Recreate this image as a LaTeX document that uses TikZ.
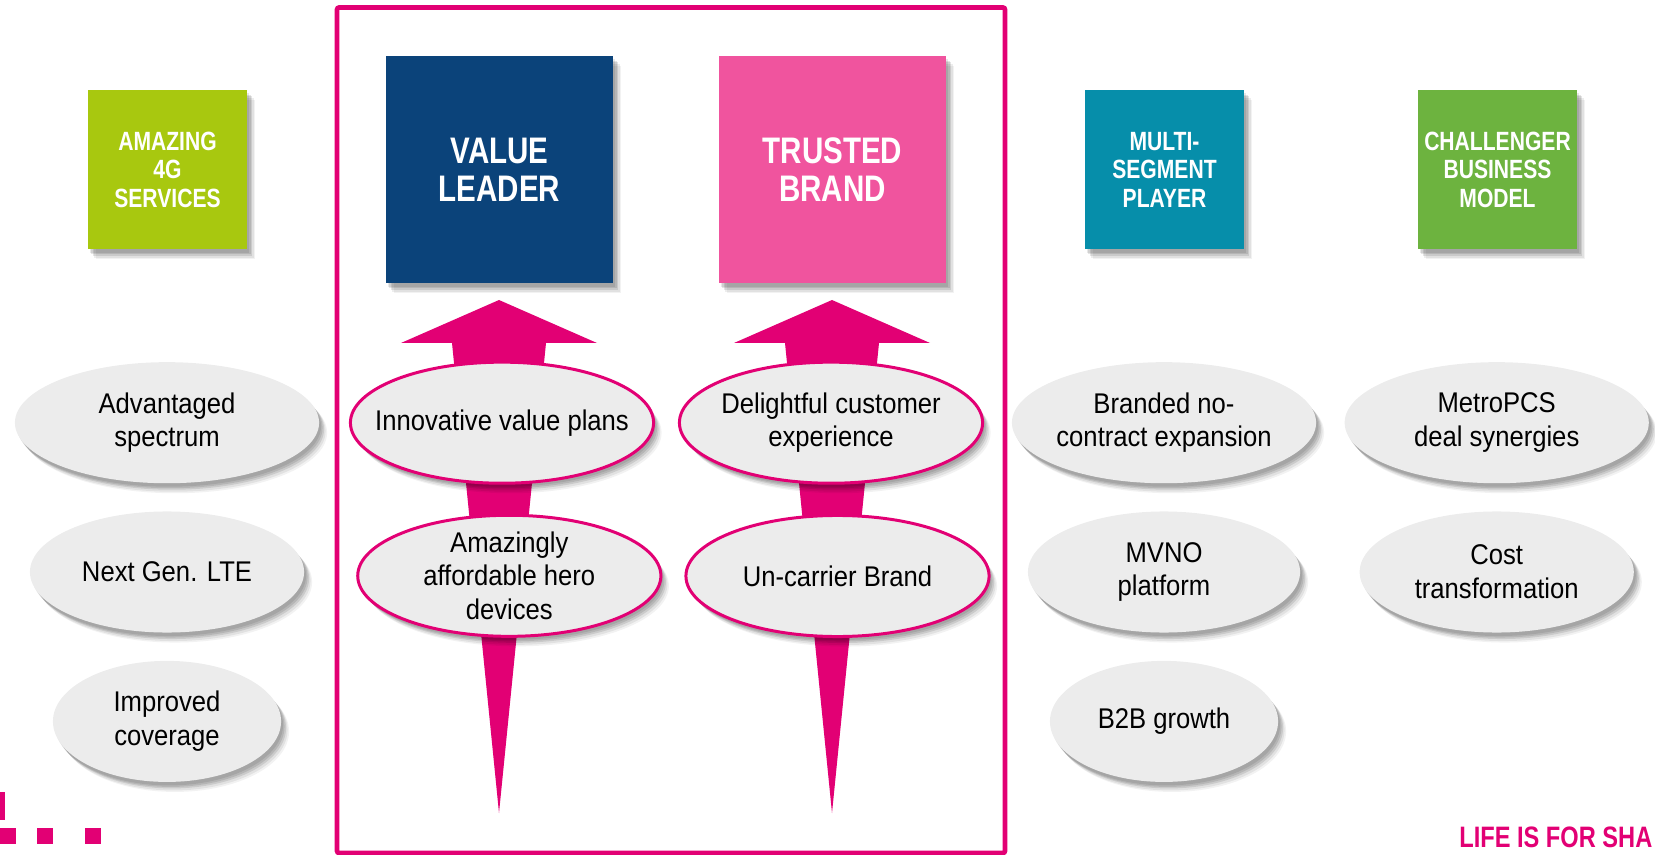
\documentclass[tikz,border=0pt]{standalone}
\usepackage{xcolor}
\usepackage{fontspec}
\setmainfont[FakeStretch=0.9,BoldFeatures={FakeStretch=0.8}]{Liberation Sans}
\usetikzlibrary{shapes.geometric,shadows}

\begin{document}
\begin{tikzpicture}[x=0.01cm,y=-0.01cm,
        softshadow/.style={
            drop shadow={shadow xshift=0.02cm,shadow yshift=-0.035cm,fill=black,opacity=0.09},
            drop shadow={shadow xshift=0.035cm,shadow yshift=-0.05cm,fill=black,opacity=0.10},
            drop shadow={shadow xshift=0.05cm,shadow yshift=-0.065cm,fill=black,opacity=0.10},
            drop shadow={shadow xshift=0.065cm,shadow yshift=-0.085cm,fill=black,opacity=0.07},
            drop shadow={shadow xshift=0.08cm,shadow yshift=-0.10cm,fill=black,opacity=0.05}},
        smallbox/.style={rectangle,softshadow,text=white,align=center,minimum width=1.59cm,minimum height=1.59cm,inner sep=0pt,font=\fontsize{7.5}{8.1}\selectfont\bfseries},
        bigbox/.style={rectangle,softshadow,text=white,align=center,minimum width=2.27cm,minimum height=2.27cm,inner sep=0pt,font=\fontsize{10.5}{10.9}\selectfont\bfseries},
        plainoval/.style={ellipse,softshadow,fill=ovalgray,align=center,minimum height=1.21cm,inner sep=-0.6cm,font=\fontsize{8.1}{9.6}\selectfont},
        keyoval/.style={plainoval,draw=tmagenta,line width=0.85pt,minimum width=3.03cm}]
        % Define colors
        \definecolor{tmagenta}{RGB}{226,0,116}
        \definecolor{ovalgray}{RGB}{236,236,236}
        \definecolor{lime}{RGB}{168,200,15}
        \definecolor{navy}{RGB}{11,67,122}
        \definecolor{rosepink}{RGB}{240,84,158}
        \definecolor{teal}{RGB}{6,142,170}
        \definecolor{leaf}{RGB}{109,179,63}

        \useasboundingbox (0,0) rectangle (1655,855);

        % Frame
        \draw[tmagenta,line width=1.3pt,rounded corners=0.2mm] (337,7.5) rectangle (1005,853);

        % Arrows
        \foreach \x in {499,832} {
            \coordinate (tip\x) at (\x,300);
            \coordinate (end\x) at (\x,813);
            \fill[tmagenta] (tip\x) -- (\x+98,343) -- (\x+47,343) -- (end\x) -- (\x-47,343) -- (\x-98,343) -- cycle;
        }

        % Boxes
        \node[smallbox,fill=lime] (amazing) at (167.5,169.5) {AMAZING\\4G\\SERVICES};
        \node[bigbox,fill=navy] (value) at (499.5,169.5) {VALUE\\LEADER};
        \node[bigbox,fill=rosepink] (trusted) at (832.5,169.5) {TRUSTED\\BRAND};
        \node[smallbox,fill=teal] (multi) at (1164.5,169.5) {MULTI-\\SEGMENT\\PLAYER};
        \node[smallbox,fill=leaf] (challenger) at (1497.5,169.5) {CHALLENGER\\BUSINESS\\MODEL};

        % Left column
        \node[plainoval,minimum width=3.04cm] (spectrum) at (167,422.7) {Advantaged\\spectrum};
        \node[plainoval,minimum width=2.74cm] (lte) at (167,572) {Next Gen. LTE};
        \node[plainoval,minimum width=2.28cm] (coverage) at (167,721.4) {Improved\\coverage};

        % Middle columns
        \node[keyoval] (plans) at (502,422.7) {Innovative value plans};
        \node[keyoval] (devices) at (509.3,575.8) {Amazingly\\affordable hero\\devices};
        \node[keyoval] (experience) at (831,422.7) {Delightful customer\\experience};
        \node[keyoval] (uncarrier) at (837.5,576) {Un-carrier Brand};

        % Right columns
        \node[plainoval,minimum width=3.04cm] (branded) at (1164,422.7) {Branded no-\\contract expansion};
        \node[plainoval,minimum width=2.72cm] (mvno) at (1164,572) {MVNO\\platform};
        \node[plainoval,minimum width=2.28cm] (btob) at (1164,721.4) {B2B growth};
        \node[plainoval,minimum width=3.04cm] (metro) at (1496.7,422.7) {MetroPCS\\deal synergies};
        \node[plainoval,minimum width=2.74cm] (cost) at (1496.7,572) {Cost\\transformation};

        % Logo
        \fill[tmagenta] (0,792) rectangle (5,820);
        \foreach \x in {0,37,85}
            \fill[tmagenta] (\x,828) rectangle (\x+16,844);

        % Slogan
        \node[text=tmagenta,anchor=base east,inner sep=0pt,font=\fontsize{8.4}{10}\selectfont\bfseries] (slogan) at (1653,847) {LIFE IS FOR SHA};
\end{tikzpicture}
\end{document}
